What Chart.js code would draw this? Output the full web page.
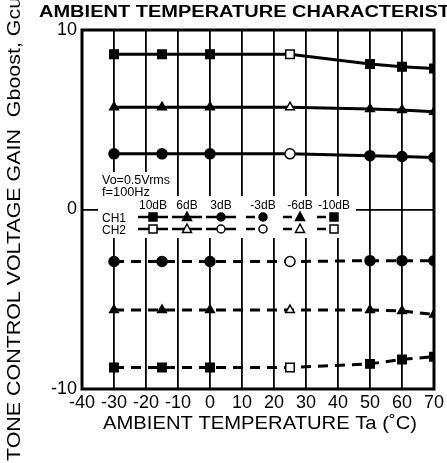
<!DOCTYPE html>
<html>
<head>
<meta charset="utf-8">
<title>Ambient temperature characteristics</title>
<script src="https://cdn.jsdelivr.net/npm/chart.js@4.4.1/dist/chart.umd.min.js"></script>
<style>
  html, body { margin: 0; padding: 0; background: #fff; }
  canvas { display: block; }
</style>
</head>
<body>
<canvas id="tempChart" width="447" height="463"></canvas>
<script>
// temperatures where the gain was measured (deg C)
const temps = [-30, -15, 0, 25, 50, 60, 70];

// tone control gain (dB) per setting
const gain10 = [8.65, 8.65, 8.65, 8.65, 8.1, 7.95, 7.85];
const gain6 = [5.7, 5.7, 5.7, 5.7, 5.6, 5.55, 5.45];
const gain3 = [3.1, 3.1, 3.1, 3.1, 3.0, 2.95, 2.9];
const gainM3 = [-2.9, -2.9, -2.9, -2.9, -2.85, -2.85, -2.85];
const gainM6 = [-5.6, -5.6, -5.6, -5.6, -5.6, -5.65, -5.85];
const gainM10 = [-8.8, -8.8, -8.8, -8.8, -8.6, -8.35, -8.2];

const settings = ['10dB', '6dB', '3dB', '-3dB', '-6dB', '-10dB'];
const channels = ['CH1', 'CH2'];
const xTicks = [-40, -30, -20, -10, 0, 10, 20, 30, 40, 50, 60, 70];
const yTicks = [-10, 0, 10];

const FONT = '"Liberation Sans", Arial, sans-serif';
const series = [gain10, gain6, gain3, gainM3, gainM6, gainM10];
const shapes = ['rect', 'triangle', 'circle', 'circle', 'triangle', 'rect'];

function makeSet(vals, i) {
  const dashed = vals[0] < 0;
  return {
    label: settings[i],
    data: temps.map((t, k) => ({ x: t, y: vals[k] })),
    borderColor: '#000',
    borderWidth: 3,
    borderDash: dashed ? [10, 7] : [],
    pointStyle: shapes[i],
    pointRadius: shapes[i] === 'rect' ? 6 : 5,
    pointBorderWidth: 1.5,
    pointBorderColor: '#000',
    pointBackgroundColor: temps.map(t => t === 25 ? '#fff' : '#000'),
    tension: 0
  };
}

// draw text squeezed/stretched so refText covers targetW
function fitText(ctx, text, refText, targetW) {
  const w = ctx.measureText(refText).width;
  ctx.scale(targetW / w, 1);
  ctx.fillText(text, 0, 0);
}

function marker(ctx, shape, x, y, filled) {
  ctx.beginPath();
  if (shape === 'rect') ctx.rect(x - 4, y - 4, 8, 8);
  else if (shape === 'triangle') {
    ctx.moveTo(x, y - 5);
    ctx.lineTo(x + 4.5, y + 3.5);
    ctx.lineTo(x - 4.5, y + 3.5);
    ctx.closePath();
  } else ctx.arc(x, y, 4, 0, Math.PI * 2);
  ctx.fillStyle = filled ? '#000' : '#fff';
  ctx.fill();
  ctx.lineWidth = 1.5;
  ctx.strokeStyle = '#000';
  ctx.stroke();
}

const decor = {
  id: 'decor',
  beforeDraw(chart) {
    const ctx = chart.ctx;
    ctx.save();
    ctx.fillStyle = '#fff';
    ctx.fillRect(0, 0, chart.width, chart.height);
    ctx.restore();
  },
  afterDraw(chart) {
    const ctx = chart.ctx;
    const a = chart.chartArea;
    ctx.save();

    // frame
    ctx.lineWidth = 3;
    ctx.strokeStyle = '#000';
    ctx.strokeRect(a.left, a.top, a.right - a.left, a.bottom - a.top);

    ctx.fillStyle = '#000';
    ctx.textBaseline = 'alphabetic';

    // title (runs off the right edge like the original)
    ctx.save();
    ctx.font = 'bold 16px ' + FONT;
    ctx.translate(39, 17);
    fitText(ctx, 'AMBIENT TEMPERATURE CHARACTERISTICS', 'AMBIENT TEMPERATURE CHARACTERIST', 411);
    ctx.restore();

    // y title, also cut off at the top
    ctx.save();
    ctx.font = '19px ' + FONT;
    ctx.translate(20, 461);
    ctx.rotate(-Math.PI / 2);
    fitText(ctx, 'TONE CONTROL VOLTAGE GAIN  Gboost, Gcut', 'TONE CONTROL VOLTAGE GAIN  Gboost, Gcut', 470);
    ctx.restore();

    // x title
    ctx.save();
    ctx.font = '18px ' + FONT;
    ctx.translate(103, 429);
    fitText(ctx, 'AMBIENT TEMPERATURE Ta (\u02DAC)', 'AMBIENT TEMPERATURE Ta (\u02DAC)', 314);
    ctx.restore();

    // legend block
    ctx.fillStyle = '#fff';
    ctx.fillRect(98, 196, 258, 42);
    ctx.fillRect(98, 172, 76, 26);

    ctx.fillStyle = '#000';
    ctx.font = '12px ' + FONT;
    ctx.save();
    ctx.translate(102, 184);
    fitText(ctx, 'Vo=0.5Vrms', 'Vo=0.5Vrms', 68);
    ctx.restore();
    ctx.save();
    ctx.translate(102, 196);
    fitText(ctx, 'f=100Hz', 'f=100Hz', 48);
    ctx.restore();

    const colX = [153, 187, 221, 263, 300, 334];
    const rowY = [217, 229];
    ctx.font = '12px ' + FONT;
    ctx.textAlign = 'center';
    settings.forEach((s, i) => ctx.fillText(s, colX[i], 209));
    ctx.textAlign = 'left';
    channels.forEach((c, r) => ctx.fillText(c, 102, rowY[r] + 5));

    channels.forEach((c, r) => {
      const y = rowY[r];
      settings.forEach((s, i) => {
        const x = colX[i];
        ctx.beginPath();
        ctx.lineWidth = 2.5;
        ctx.strokeStyle = '#000';
        if (i < 3) { ctx.moveTo(x - 15, y); ctx.lineTo(x + 15, y); }
        else { ctx.moveTo(x - 17, y); ctx.lineTo(x - 8, y); }
        ctx.stroke();
        marker(ctx, shapes[i], x, y, r === 0);
      });
    });

    ctx.restore();
  }
};

new Chart(document.getElementById('tempChart'), {
  type: 'line',
  data: { datasets: series.map(makeSet) },
  options: {
    responsive: false,
    animation: false,
    layout: { padding: { left: 0, top: 30, right: 11, bottom: 0 } },
    plugins: { legend: { display: false }, tooltip: { enabled: false } },
    scales: {
      x: {
        type: 'linear',
        min: -40,
        max: 70,
        afterBuildTicks: s => { s.ticks = xTicks.map(v => ({ value: v })); },
        afterFit: s => { s.height = 74; },
        grid: { color: '#000', lineWidth: 1.8, drawTicks: false },
        border: { display: false },
        ticks: {
          autoSkip: false, maxRotation: 0, padding: 3,
          color: '#000', font: { family: FONT, size: 18 }
        }
      },
      y: {
        min: -10,
        max: 10,
        afterBuildTicks: s => { s.ticks = yTicks.map(v => ({ value: v })); },
        afterFit: s => { s.width = 82; },
        grid: {
          color: c => c.tick && c.tick.value === 0 ? '#000' : 'rgba(0,0,0,0)',
          lineWidth: 1.8, drawTicks: false
        },
        border: { display: false },
        ticks: { padding: 5, color: '#000', font: { family: FONT, size: 18 } }
      }
    }
  },
  plugins: [decor]
});
</script>
</body>
</html>
